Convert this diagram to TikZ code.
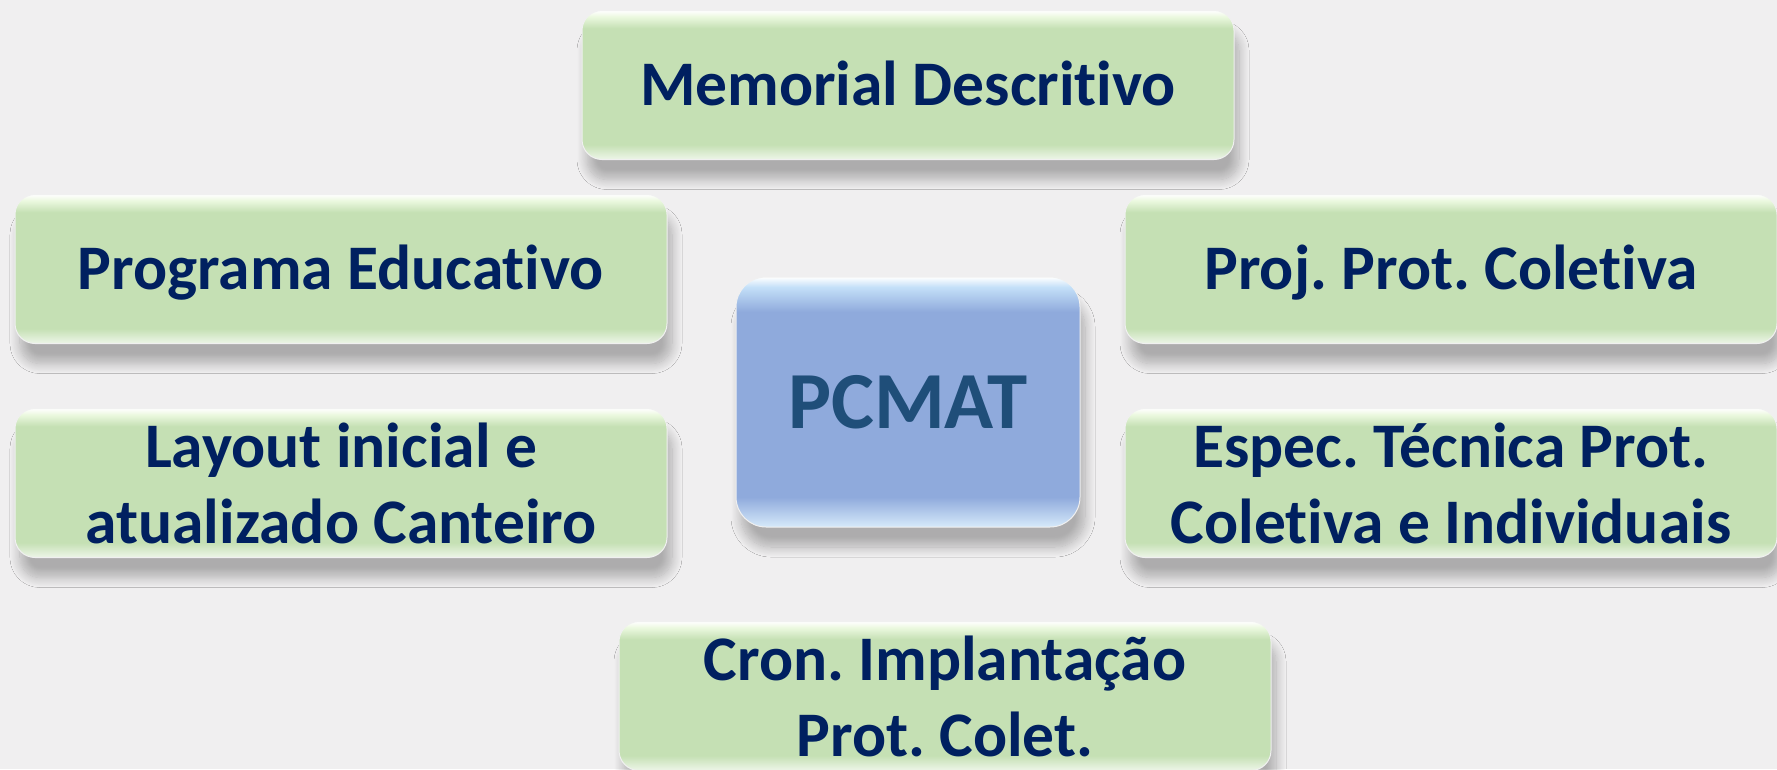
\documentclass[tikz,border=0pt]{standalone}
\usepackage{fontspec}
\setmainfont{Carlito}[Ligatures=NoCommon]
\usetikzlibrary{shadows.blur}
\definecolor{fundo}{RGB}{240,239,240}
\definecolor{verde}{RGB}{197,224,180}
\definecolor{verdeclaro}{RGB}{236,249,224}
\definecolor{azul}{RGB}{143,170,220}
\definecolor{azulclaro}{RGB}{196,224,248}
\definecolor{marinho}{RGB}{0,32,96}
\definecolor{azultexto}{RGB}{31,78,121}
\pgfdeclareverticalshading{sombreadoverde}{100bp}{color(0bp)=(white); color(25bp)=(white!70!verde); color(30bp)=(verde); color(69bp)=(verde); color(73bp)=(verdeclaro); color(75bp)=(white); color(100bp)=(white)}
\pgfdeclareverticalshading{sombreadoazul}{100bp}{color(0bp)=(white); color(25bp)=(azulclaro!70!white); color(31bp)=(azul); color(68bp)=(azul); color(73bp)=(azulclaro); color(75bp)=(white); color(100bp)=(white)}
\frenchspacing
\begin{document}
\begin{tikzpicture}[x=1pt,y=-1pt,
    caixa/.style={rectangle, rounded corners=20pt, shading=sombreadoverde, draw=white!88!gray, line width=1pt,
      minimum width=652pt, minimum height=149pt, inner sep=0pt, align=center, text=marinho,
      font=\fontsize{63.5}{76}\selectfont\bfseries,
      blur shadow={shadow xshift=5pt, shadow yshift=-20pt, shadow blur radius=10pt, shadow blur steps=12, shadow opacity=28}},
    linha/.style={text height=40pt, text depth=0pt},
    centro/.style={caixa, shading=sombreadoazul, minimum width=344pt, minimum height=250pt, rounded corners=30pt,
      text=azultexto, font=\fontsize{81}{90}\selectfont\bfseries}]
  \useasboundingbox (0,0) rectangle (1777,769);
  \fill[fundo] (0,0) rectangle (1777,769);
  \node[caixa, linha] (memorial) at (908,85) {Memorial Descritivo};
  \node[caixa, linha] (programa) at (341,269) {Programa Educativo};
  \node[caixa, linha] (projeto) at (1451,269) {Proj. Prot. Coletiva};
  \node[centro] (pcmat) at (908,402) {PCMAT};
  \node[caixa] (layout) at (341,483) {Layout inicial e\\atualizado Canteiro};
  \node[caixa] (espec) at (1451,483) {Espec. Técnica Prot.\\Coletiva e Individuais};
  \node[caixa] (cron) at (945,696) {Cron. Implantação\\Prot. Colet.};
\end{tikzpicture}
\end{document}
